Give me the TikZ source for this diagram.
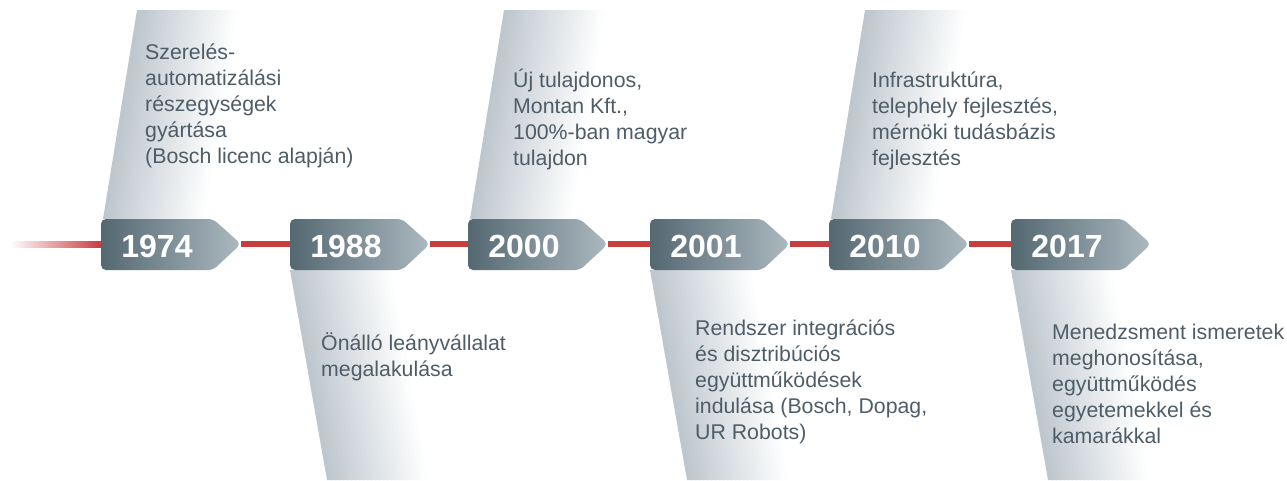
\documentclass[tikz,border=0pt]{standalone}
\usepackage{fontspec}
\setmainfont{Liberation Sans}
\usepackage{tikz}
\definecolor{boxdark}{RGB}{84,104,114}
\definecolor{boxlight}{RGB}{172,185,192}
\definecolor{panelgray}{RGB}{190,199,206}
\definecolor{linered}{RGB}{200,62,62}
\definecolor{textgray}{RGB}{78,93,103}
\newcommand\BW{140}
\newcommand\evt[1]{\begin{tabular}[t]{@{}l@{}}#1\end{tabular}}

\begin{document}
\begin{tikzpicture}[x=1pt,y=-1pt,every node/.style={inner sep=0pt}]

  \tikzstyle{yeartext}=[font=\fontsize{32}{36}\selectfont\bfseries,text=white,anchor=base]
  \tikzstyle{evttext}=[font=\fontsize{21.3}{26}\selectfont,text=textgray,anchor=base west]
  \tikzstyle{redline}=[draw=linered,line width=6pt]

  \useasboundingbox (0,0) rectangle (1287,480);

  % shaded panels above and below the boxes, faded in slanted strips
  \foreach \x in {101,468,829}
    \foreach \i in {0,...,24} {
      \pgfmathtruncatemacro\k{100-4*\i}
      \fill[color=panelgray!\k!white] (\x+36+\i*4,10) -- (\x+41+\i*4,10)
        -- (\x+7+\i*4,219) -- (\x+2+\i*4,219) -- cycle;
    }
  \foreach \x in {290,650,1011}
    \foreach \i in {0,...,24} {
      \pgfmathtruncatemacro\k{100-4*\i}
      \fill[color=panelgray!\k!white] (\x+\i*4,270) -- (\x+5+\i*4,270)
        -- (\x+42+\i*4,480) -- (\x+37+\i*4,480) -- cycle;
    }

  % year boxes
  \foreach \x/\yr in {101/1974,290/1988,468/2000,650/2001,829/2010,1011/2017} {
    \shade[left color=boxdark,right color=boxlight,rounded corners=5pt]
      (\x,244) |- (\x+112,219) -- (\x+\BW,244) -- (\x+112,270) -| cycle;
    \coordinate (w\yr) at (\x,244);
    \coordinate (e\yr) at (\x+\BW,244);
    \node[yeartext] (y\yr) at (\x+56,257) {\yr};
  }

  % timeline
  \shade[left color=white,right color=linered] (10,241) rectangle (101,247);
  \foreach \a/\b in {1974/1988,1988/2000,2000/2001,2001/2010,2010/2017}
    \draw[redline] (e\a) -- (w\b);

  % texts
  \node[evttext] (t1974) at (145,59)
    {\evt{Szerelés-\\automatizálási\\részegységek\\gyártása\\(Bosch licenc alapján)}};
  \node[evttext] (t2000) at (513,87)
    {\evt{Új tulajdonos,\\Montan Kft.,\\100\%-ban magyar\\tulajdon}};
  \node[evttext] (t2010) at (872,87)
    {\evt{Infrastruktúra,\\telephely fejlesztés,\\mérnöki tudásbázis\\fejlesztés}};
  \node[evttext] (t1988) at (321,350)
    {\evt{Önálló leányvállalat\\megalakulása}};
  \node[evttext] (t2001) at (695,335)
    {\evt{Rendszer integrációs\\és disztribúciós\\együttműködések\\indulása (Bosch, Dopag,\\UR Robots)}};
  \node[evttext] (t2017) at (1052,339)
    {\evt{Menedzsment ismeretek\\meghonosítása,\\együttműködés\\egyetemekkel és\\kamarákkal}};
\end{tikzpicture}
\end{document}
